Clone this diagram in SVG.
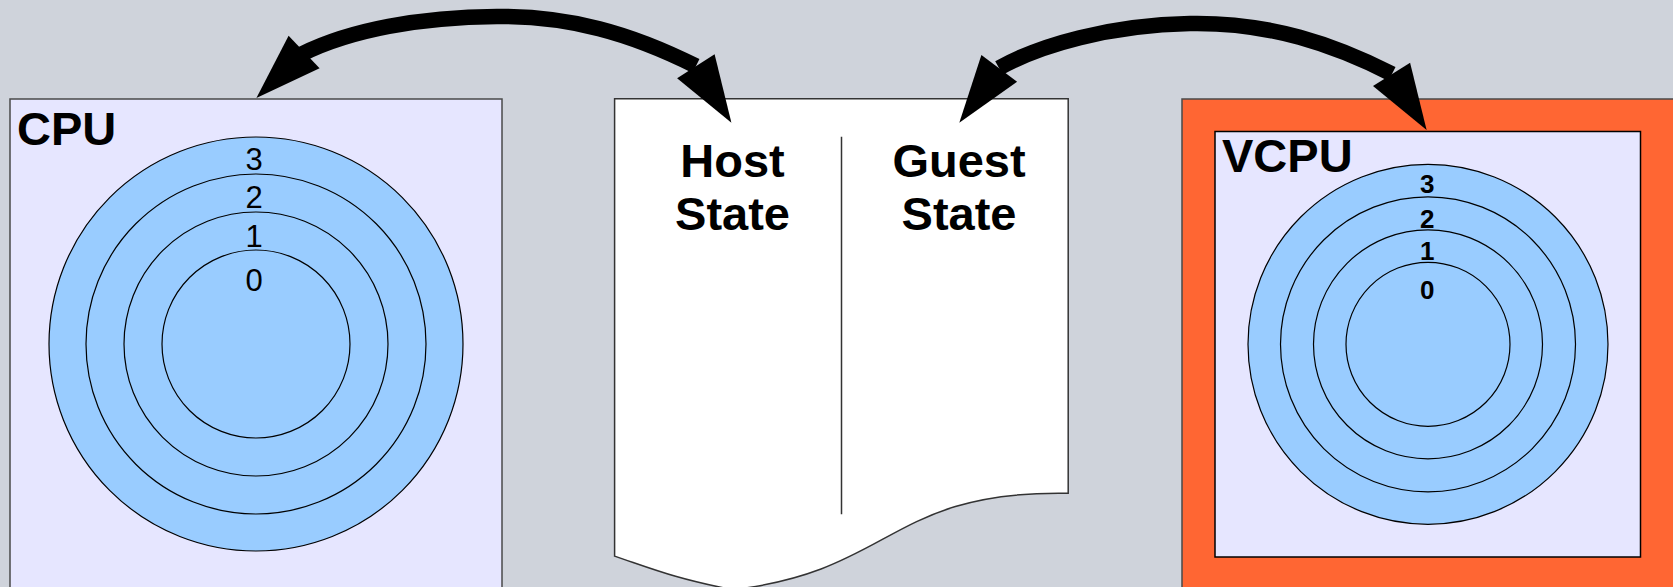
<svg xmlns="http://www.w3.org/2000/svg" width="1673" height="587" viewBox="0 0 1673 587">
<style>
.box{fill:#E6E6FF;stroke:#4a4a4a;stroke-width:1.5}
.ring{fill:#99CCFF;stroke:#000;stroke-width:1.2}
.lbl{font-family:"Liberation Sans",Arial,sans-serif;font-weight:bold;font-size:47px;fill:#000}
.num{font-family:"Liberation Sans",Arial,sans-serif;font-size:31px;fill:#000;text-anchor:middle}
.vnum{font-family:"Liberation Sans",Arial,sans-serif;font-size:26px;font-weight:bold;fill:#000;text-anchor:middle}
.st{text-anchor:middle}
.conn{fill:none;stroke:#000;stroke-width:15.5}
.head{fill:#000;stroke:none}
</style>
<rect width="1673" height="587" fill="#CFD3DB"/>
<g id="cpu">
<rect class="box" x="10" y="99" width="492" height="520"/>
<text class="lbl" x="17" y="145">CPU</text>
<circle class="ring" cx="256" cy="344" r="207"/>
<circle class="ring" cx="256" cy="344" r="170"/>
<circle class="ring" cx="256" cy="344" r="132"/>
<circle class="ring" cx="256" cy="344" r="94"/>
<text class="num" x="254" y="170">3</text>
<text class="num" x="254" y="208">2</text>
<text class="num" x="254" y="247">1</text>
<text class="num" x="254" y="291">0</text>
</g>
<g id="state">
<path d="M614.6,98.7 L1068.2,98.7 L1068.2,493.3 C888.7,490.1 894.7,570.8 732.6,589.7 C674.7,578.3 653.5,569.2 614.6,556.1 Z" fill="#fff" stroke="#333" stroke-width="1.5"/>
<line x1="841.5" y1="136.7" x2="841.5" y2="514.3" stroke="#333" stroke-width="1.5"/>
<text class="lbl st" x="732.5" y="176.7">Host</text>
<text class="lbl st" x="732.5" y="230">State</text>
<text class="lbl st" x="959" y="176.7">Guest</text>
<text class="lbl st" x="959" y="230">State</text>
</g>
<g id="vcpu">
<rect x="1182" y="99" width="520" height="520" fill="#FF6633" stroke="#4a4a4a" stroke-width="1.5"/>
<rect x="1215" y="131.5" width="425.5" height="425.5" fill="#E6E6FF" stroke="#000" stroke-width="1.5"/>
<text class="lbl" x="1222" y="171.7">VCPU</text>
<circle class="ring" cx="1428" cy="344.3" r="180"/>
<circle class="ring" cx="1428" cy="344.3" r="147.5"/>
<circle class="ring" cx="1428" cy="344.3" r="114.5"/>
<circle class="ring" cx="1428" cy="344.3" r="82"/>
<text class="vnum" x="1427.3" y="193.3">3</text>
<text class="vnum" x="1427.3" y="227.7">2</text>
<text class="vnum" x="1427.3" y="260">1</text>
<text class="vnum" x="1427.3" y="299">0</text>
</g>
<g id="connectors">
<path class="conn" d="M302,54 C350,30 420,17 497,16.5 C570,16 630,33 696,66"/>
<polygon class="head" points="256.4,98 288.6,35.7 319.6,68.3"/>
<polygon class="head" points="731.4,122.7 714.6,54.3 677.1,78.3"/>
<path class="conn" d="M999,68 C1040,45 1110,25 1190,23.5 C1270,22 1335,45 1392,74"/>
<polygon class="head" points="959.3,122.7 981.4,55 1017.1,81.7"/>
<polygon class="head" points="1426.6,130 1410.1,62.7 1373,86"/>
</g>
</svg>
